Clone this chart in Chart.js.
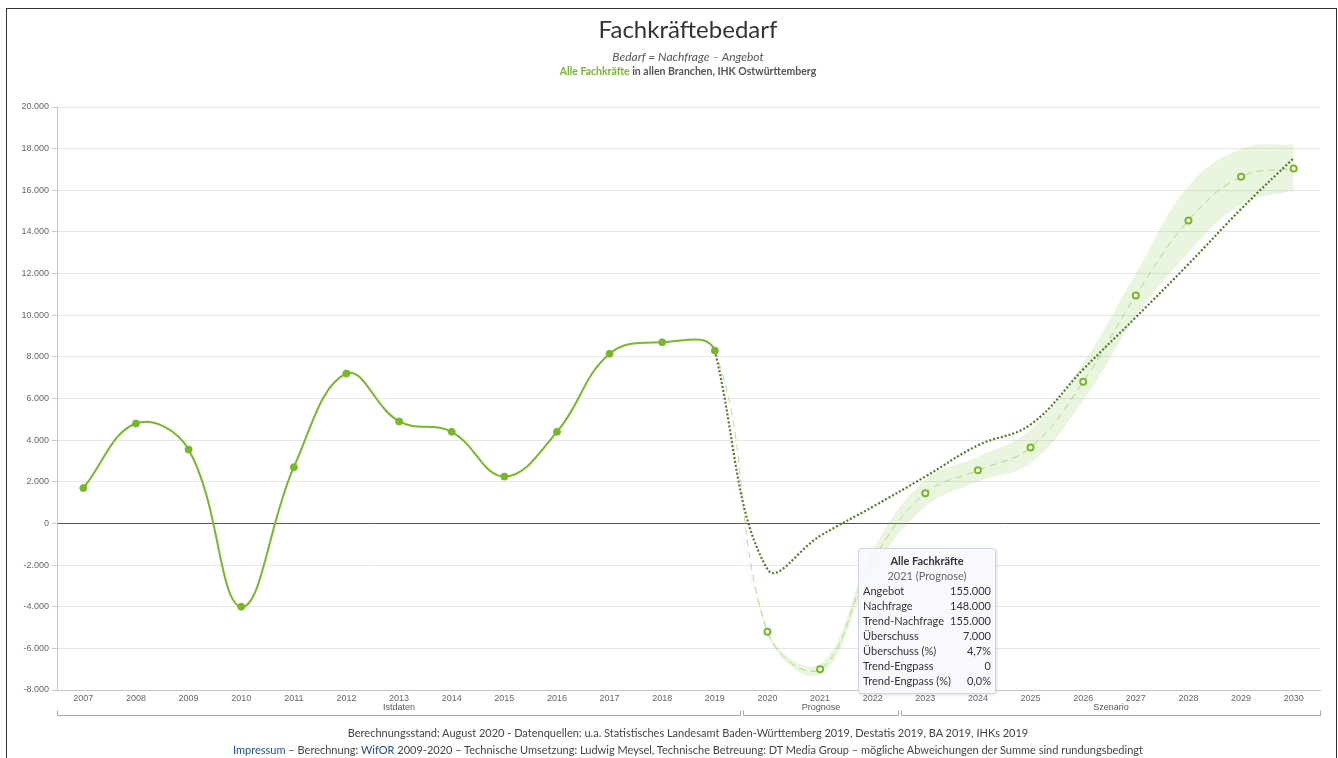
<!DOCTYPE html>
<html>
<head>
<meta charset="utf-8">
<script src="https://cdn.jsdelivr.net/npm/chart.js@4.4.0/dist/chart.umd.min.js"></script>
<style>
  body { margin: 0; background: #fff; font-family: Lato, "Noto Sans", sans-serif; }
  #page { position: relative; width: 1338px; height: 758px; overflow: hidden; }
  #frame { position: absolute; left: 6px; top: 8px; width: 1329px; height: 760px; border: 1px solid #333; border-bottom: none; }
  canvas { position: absolute; left: 0; top: 0; }
  .line { position: absolute; left: 19px; width: 1338px; text-align: center; white-space: nowrap; }
  #title { top: 14px; font-size: 24px; color: #333; }
  #sub1 { top: 49px; font-size: 12px; color: #555; font-style: italic; }
  #sub2 { top: 65px; font-size: 10.5px; color: #555; font-weight: bold; }
  #sub2 span { color: #78b72a; }
  #foot1 { top: 726px; font-size: 11px; color: #444; }
  #foot2 { top: 743px; font-size: 11px; color: #444; }
  #foot2 a { color: #1d4f8f; text-decoration: none; }
  #tip { position: absolute; display: none; width: 128px; padding: 4px 4px 5px 4px;
         background: rgba(247,249,253,0.95); border: 1px solid #cdd5e0; border-radius: 3px;
         box-shadow: 1px 1px 3px rgba(0,0,0,0.12); font-size: 11px; color: #333; line-height: 15px; }
  #tip .t { text-align: center; font-weight: bold; }
  #tip .s { text-align: center; color: #666; }
  #tip .r { display: flex; justify-content: space-between; }
</style>
</head>
<body>
<div id="page">
  <div id="frame"></div>
  <canvas id="chart" width="1338" height="758"></canvas>
  <div class="line" id="title">Fachkräftebedarf</div>
  <div class="line" id="sub1">Bedarf = Nachfrage – Angebot</div>
  <div class="line" id="sub2"><span>Alle Fachkräfte</span> in allen Branchen, IHK Ostwürttemberg</div>
  <div class="line" id="foot1">Berechnungsstand: August 2020 - Datenquellen: u.a. Statistisches Landesamt Baden-Württemberg 2019, Destatis 2019, BA 2019, IHKs 2019</div>
  <div class="line" id="foot2"><a>Impressum</a> – Berechnung: <a>WifOR</a> 2009-2020 – Technische Umsetzung: Ludwig Meysel, Technische Betreuung: DT Media Group – mögliche Abweichungen der Summe sind rundungsbedingt</div>
  <div id="tip"></div>
</div>
<script>
// categories
const years = ['2007', '2008', '2009', '2010', '2011', '2012', '2013', '2014', '2015', '2016', '2017', '2018',
               '2019', '2020', '2021', '2022', '2023', '2024', '2025', '2026', '2027', '2028', '2029', '2030'];

// Bedarf, Istdaten up to 2019, then Prognose / Szenario
const bedarf = [1700, 4800, 3550, -4000, 2700, 7200, 4900, 4400, 2250, 4400, 8150, 8700,
                8300, -5200, -7000, -1800, 1450, 2550, 3650, 6800, 10950, 14550, 16650, 17050];
const lastIstIndex = 12;

// trend and uncertainty band, 2019 - 2030
const trendYears = ['2019', '2020', '2021', '2022', '2023', '2024', '2025', '2026', '2027', '2028', '2029', '2030'];
const trend    = [8300, -2200, -600,  800, 2250, 3750, 4750, 7400,  9900, 12450, 15100, 17550];
const bandLow  = [8300, -5300, -7250, -2300,  800, 2000, 2900, 5900,  9900, 13000, 15300, 16000];
const bandHigh = [8300, -5100, -6750, -1300, 2100, 3200, 4500, 7700, 12000, 16200, 18000, 18200];

// y axis
const yMin = -8000, yMax = 20000, yStep = 2000;

// x axis groups
const groupNames = ['Istdaten', 'Prognose', 'Szenario'];
const groupFrom  = ['2007', '2020', '2023'];
const groupTo    = ['2019', '2022', '2030'];

// tooltip shown for 2021
const tipYear = '2021';
const tipTitle = 'Alle Fachkräfte';
const tipSub = '2021 (Prognose)';
const tipLabels = ['Angebot', 'Nachfrage', 'Trend-Nachfrage', 'Überschuss', 'Überschuss (%)', 'Trend-Engpass', 'Trend-Engpass (%)'];
const tipValues = ['155.000', '148.000', '155.000', '7.000', '4,7%', '0', '0,0%'];

const green = '#78b72a';
const darkGreen = '#527a2c';

function fmt(v) {
  const s = String(Math.abs(v)).replace(/\B(?=(\d{3})+(?!\d))/g, '.');
  return (v < 0 ? '-' : '') + s;
}

function toPoints(labels, values) {
  return labels.map((l, i) => ({ x: l, y: values[i] }));
}

const groupBrackets = {
  id: 'groupBrackets',
  afterDraw(chart) {
    const { ctx, chartArea } = chart;
    const x = chart.scales.x;
    const half = (x.getPixelForValue(1) - x.getPixelForValue(0)) / 2;
    const by = Math.round(chartArea.bottom + 25) + 0.5;
    ctx.save();
    ctx.strokeStyle = '#a8a8a8';
    ctx.lineWidth = 1;
    ctx.fillStyle = '#555';
    ctx.font = '9px "Liberation Sans", Arial, sans-serif';
    ctx.textAlign = 'center';
    ctx.textBaseline = 'middle';
    groupNames.forEach((name, i) => {
      const x0 = Math.round(x.getPixelForValue(years.indexOf(groupFrom[i])) - half + (i > 0 ? 1.5 : 0)) + 0.5;
      const x1 = Math.round(x.getPixelForValue(years.indexOf(groupTo[i])) + half - (i < groupNames.length - 1 ? 1.5 : 0)) + 0.5;
      ctx.beginPath();
      ctx.moveTo(x0, by - 5);
      ctx.lineTo(x0, by);
      ctx.lineTo(x1, by);
      ctx.lineTo(x1, by - 5);
      ctx.stroke();
      ctx.fillText(name, (x0 + x1) / 2, chartArea.bottom + 18);
    });
    ctx.restore();

    // place the tooltip next to the 2021 point
    const pt = chart.getDatasetMeta(0).data[years.indexOf(tipYear)];
    const tip = document.getElementById('tip');
    tip.innerHTML = '<div class="t">' + tipTitle + '</div><div class="s">' + tipSub + '</div>' +
      tipLabels.map((l, i) => '<div class="r"><span>' + l + '</span><span>' + tipValues[i] + '</span></div>').join('');
    tip.style.left = Math.round(pt.x + 38) + 'px';
    tip.style.top = Math.round(pt.y - 121) + 'px';
    tip.style.display = 'block';
  }
};

const ist = (ctx) => ctx.dataIndex <= lastIstIndex;

new Chart(document.getElementById('chart'), {
  type: 'line',
  data: {
    labels: years,
    datasets: [
      {
        label: 'Alle Fachkräfte',
        data: bedarf,
        borderColor: green,
        borderWidth: 2,
        tension: 0.4,
        segment: {
          borderColor: (c) => c.p0DataIndex >= lastIstIndex ? 'rgba(120,183,42,0.5)' : green,
          borderWidth: (c) => c.p0DataIndex >= lastIstIndex ? 1 : 2,
          borderDash: (c) => c.p0DataIndex >= lastIstIndex ? [7, 5] : []
        },
        pointRadius: (c) => ist(c) ? 3.5 : 3,
        pointBorderWidth: (c) => ist(c) ? 1 : 2,
        pointBorderColor: green,
        pointBackgroundColor: (c) => ist(c) ? green : '#fff'
      },
      {
        label: 'Trend',
        data: toPoints(trendYears, trend),
        borderColor: darkGreen,
        borderWidth: 2.2,
        borderDash: [2, 2],
        tension: 0.4,
        pointRadius: 0
      },
      {
        label: 'Band unten',
        data: toPoints(trendYears, bandLow),
        borderWidth: 0,
        borderColor: 'rgba(0,0,0,0)',
        tension: 0.4,
        pointRadius: 0
      },
      {
        label: 'Band oben',
        data: toPoints(trendYears, bandHigh),
        borderWidth: 0,
        borderColor: 'rgba(0,0,0,0)',
        backgroundColor: 'rgba(150,205,100,0.2)',
        fill: '-1',
        tension: 0.4,
        pointRadius: 0
      }
    ]
  },
  options: {
    responsive: false,
    animation: false,
    layout: { padding: { top: 107, right: 18, left: 0, bottom: 0 } },
    plugins: {
      legend: { display: false },
      tooltip: { enabled: false },
      title: { display: false }
    },
    scales: {
      x: {
        offset: true,
        afterFit: (s) => { s.height = 68; },
        grid: { display: false, drawTicks: false },
        border: { display: true, color: '#c8c8c8' },
        ticks: {
          color: '#666',
          padding: 3,
          font: { family: '"Liberation Sans", Arial, sans-serif', size: 9 },
          maxRotation: 0,
          autoSkip: false
        }
      },
      y: {
        min: yMin,
        max: yMax,
        afterFit: (s) => { s.width = 57; },
        border: { display: true, color: '#c8c8c8' },
        grid: {
          color: (c) => c.tick && c.tick.value === 0 ? '#555' : '#e6e6e6',
          tickColor: '#c8c8c8',
          tickLength: 5
        },
        ticks: {
          stepSize: yStep,
          color: '#666',
          padding: 3,
          font: { family: '"Liberation Sans", Arial, sans-serif', size: 9 },
          callback: (v) => fmt(v)
        }
      }
    }
  },
  plugins: [groupBrackets]
});
</script>
</body>
</html>
